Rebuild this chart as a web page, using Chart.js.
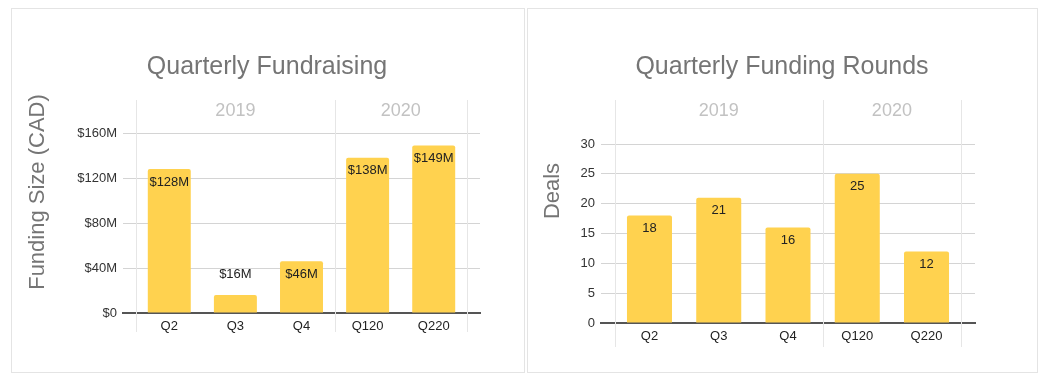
<!DOCTYPE html>
<html>
<head>
<meta charset="utf-8">
<script src="https://cdn.jsdelivr.net/npm/chart.js@4.4.1/dist/chart.umd.min.js"></script>
<style>
  body { margin: 0; background: #fff; width: 1050px; height: 382px; position: relative; overflow: hidden; }
  .card { position: absolute; top: 8px; height: 363px; border: 1px solid #e4e4e4; }
  #cardLeft { left: 11px; width: 512px; }
  #cardRight { left: 527px; width: 509px; }
  canvas { display: block; }
</style>
</head>
<body>
<div class="card" id="cardLeft"><canvas id="fundsChart" width="512" height="363"></canvas></div>
<div class="card" id="cardRight"><canvas id="dealsChart" width="509" height="363"></canvas></div>
<script>
// --- data ---
const quarters = ["Q2", "Q3", "Q4", "Q120", "Q220"];
const years = ["2019", "2020"];
const yearSpans = [[0, 2], [3, 4]]; // first / last quarter index in each year
const fundingMillions = [128, 16, 46, 138, 149];
const deals = [18, 21, 16, 25, 12];
const fundingTicks = [0, 40, 80, 120, 160];
const dealTicks = [0, 5, 10, 15, 20, 25, 30];

const FONT = "'Liberation Sans', Arial, Helvetica, sans-serif";
Chart.defaults.font.family = FONT;

const money = v => (v === 0 ? "$0" : "$" + v + "M");

// chart title, year headers, group separators, rotated axis title and bar value labels
function makeDecor(cfg) {
  return {
    id: "sheetDecor",
    beforeDatasetsDraw(chart) {
      const { ctx, chartArea, scales: { x } } = chart;
      ctx.save();
      ctx.textAlign = "center";
      ctx.textBaseline = "middle";
      ctx.fillStyle = "#757575";
      ctx.font = "25px " + FONT;
      ctx.fillText(cfg.title, cfg.titleX, 58);

      ctx.strokeStyle = "#e6e6e6";
      ctx.lineWidth = 1;
      const edges = [yearSpans[0][0] - 0.5, ...yearSpans.map(s => s[1] + 0.5)];
      edges.forEach(v => {
        const px = Math.round(x.getPixelForValue(v)) + 0.5;
        ctx.beginPath();
        ctx.moveTo(px, 91);
        ctx.lineTo(px, chartArea.bottom + cfg.sepBelow);
        ctx.stroke();
      });
      ctx.fillStyle = "#c2c2c2";
      ctx.font = "18px " + FONT;
      years.forEach((yr, i) => {
        const [a, b] = yearSpans[i];
        ctx.fillText(yr, x.getPixelForValue((a + b) / 2), 102);
      });
      ctx.translate(cfg.yTitleX, cfg.yTitleY);
      ctx.rotate(-Math.PI / 2);
      ctx.fillStyle = "#757575";
      ctx.font = "22px " + FONT;
      ctx.fillText(cfg.yTitle, 0, 0);
      ctx.restore();
    },
    afterDatasetsDraw(chart) {
      const { ctx } = chart;
      const meta = chart.getDatasetMeta(0);
      ctx.save();
      ctx.fillStyle = "#222";
      ctx.font = "13px " + FONT;
      ctx.textAlign = "center";
      ctx.textBaseline = "middle";
      meta.data.forEach((bar, i) => {
        const v = cfg.values[i];
        const inside = bar.base - bar.y > 30;
        ctx.fillText(cfg.labelFmt(v), bar.x, inside ? bar.y + 13 : bar.y - 21);
      });
      ctx.restore();
    }
  };
}

function buildChart(id, values, ticks, cfg) {
  cfg.values = values;
  return new Chart(document.getElementById(id), {
    type: "bar",
    data: {
      datasets: [{
        data: values.map((v, i) => ({ x: i, y: v })),
        backgroundColor: "#FFD24F",
        borderRadius: 2,
        borderSkipped: "bottom",
        barPercentage: 0.65,
        categoryPercentage: 1
      }]
    },
    options: {
      responsive: false,
      animation: false,
      layout: { padding: { left: 0, right: cfg.padRight, top: cfg.padTop, bottom: cfg.padBottom } },
      plugins: {
        legend: { display: false },
        tooltip: { enabled: false },
        title: { display: false }
      },
      scales: {
        x: {
          type: "linear",
          offset: false,
          min: -0.7,
          max: 4.7,
          afterBuildTicks: s => { s.ticks = quarters.map((_, i) => ({ value: i })); },
          afterFit: s => { s.height = 30; },
          grid: { display: false, drawTicks: false, offset: false },
          border: { color: "#555", width: 2 },
          ticks: { callback: v => quarters[v], color: "#222", font: { size: 13 }, padding: 6, maxRotation: 0, autoSkip: false }
        },
        y: {
          min: 0,
          max: ticks[ticks.length - 1],
          afterBuildTicks: s => { s.ticks = ticks.map(v => ({ value: v })); },
          afterFit: s => { s.width = cfg.axisWidth; },
          grid: { color: c => (c.tick && c.tick.value === 0 ? "rgba(0,0,0,0)" : "#d4d4d4"), drawTicks: false },
          border: { display: false },
          ticks: { callback: cfg.tickFmt, color: "#333", font: { size: 13 }, padding: 6 }
        }
      }
    },
    plugins: [makeDecor(cfg)]
  });
}

buildChart("fundsChart", fundingMillions, fundingTicks, {
  title: "Quarterly Fundraising", titleX: 255,
  yTitle: "Funding Size (CAD)",
  yTitleX: 26, yTitleY: 183,
  axisWidth: 111, padRight: 44, padTop: 124, padBottom: 29, sepBelow: 19,
  tickFmt: v => money(v),
  labelFmt: money
});

buildChart("dealsChart", deals, dealTicks, {
  title: "Quarterly Funding Rounds", titleX: 254,
  yTitle: "Deals",
  yTitleX: 25, yTitleY: 182,
  axisWidth: 73, padRight: 62, padTop: 135, padBottom: 19, sepBelow: 24,
  tickFmt: v => String(v),
  labelFmt: v => String(v)
});
</script>
</body>
</html>
